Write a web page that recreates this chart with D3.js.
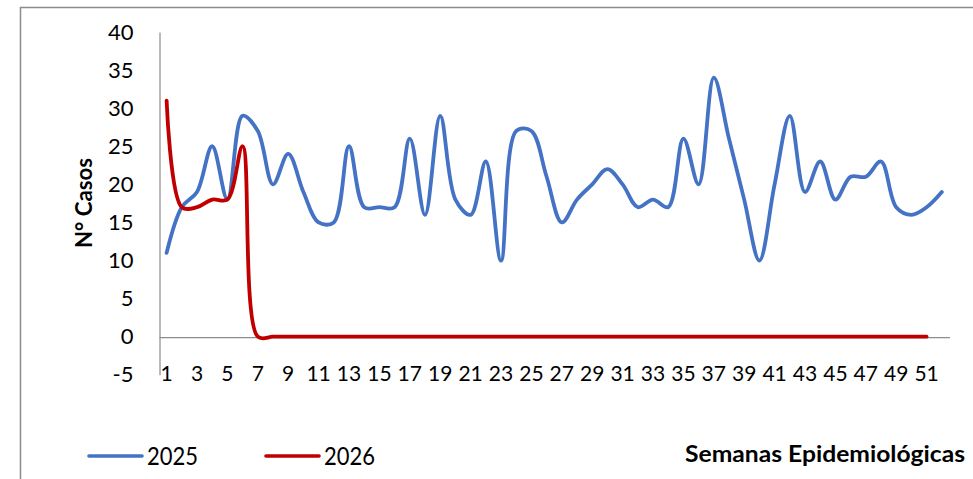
<!DOCTYPE html>
<html>
<head>
<meta charset="utf-8">
<script src="https://cdn.jsdelivr.net/npm/d3@7"></script>
<style>
  body { margin: 0; background: #fff; }
  svg { display: block; font-family: Lato, "Open Sans", sans-serif; }
</style>
</head>
<body>
<div id="chart"></div>
<script>
// datos
var weeks = d3.range(1, 53);
var yTicks = [-5, 0, 5, 10, 15, 20, 25, 30, 35, 40];
var casos2025 = [11, 17, 19, 25, 18, 29, 27, 20, 24, 19,
                 15, 15, 25, 17, 17, 17, 26, 16, 29, 18,
                 16, 23, 10, 27, 27, 21, 15, 18, 20, 22,
                 20, 17, 18, 17, 26, 20, 34, 26, 18, 10,
                 20, 29, 19, 23, 18, 21, 21, 23, 17, 16,
                 17, 19];
var casos2026 = [31, 17, 17, 18, 18, 25, 0, 0, 0, 0,
                 0, 0, 0, 0, 0, 0, 0, 0, 0, 0,
                 0, 0, 0, 0, 0, 0, 0, 0, 0, 0,
                 0, 0, 0, 0, 0, 0, 0, 0, 0, 0,
                 0, 0, 0, 0, 0, 0, 0, 0, 0, 0,
                 0];
var seriesNames = ["2025", "2026"];
var colors = ["#4472C4", "#C00000"];

var width = 973, height = 479;

var svg = d3.select("#chart").append("svg")
    .attr("width", width)
    .attr("height", height);

// marco del gráfico
svg.append("path")
    .attr("d", "M20.5," + height + "V7.5H" + width)
    .attr("fill", "none")
    .attr("stroke", "#8c8c8c")
    .attr("stroke-width", 1.5);

var xScale = d3.scaleBand()
    .domain(weeks)
    .range([159, 949.4]);

var yScale = d3.scaleLinear()
    .domain([-5, 40])
    .range([374.8, 32]);

// eje Y
var yAxis = svg.append("g")
    .attr("transform", "translate(159.5,0)")
    .call(d3.axisLeft(yScale).tickValues(yTicks)
        .tickFormat(function (d) { return String(d); })
        .tickSize(0).tickPadding(26));
yAxis.select(".domain").attr("stroke", "#8c8c8c").attr("stroke-width", 1.2);
yAxis.selectAll("text")
    .attr("font-family", "Lato, sans-serif")
    .attr("font-size", "22px")
    .attr("fill", "#000");

// eje X (linea en 0, etiquetas abajo)
var xAxis = svg.append("g")
    .attr("transform", "translate(0," + (yScale(0) + 0.5) + ")")
    .call(d3.axisBottom(xScale)
        .tickValues(weeks.filter(function (d) { return d % 2 === 1; }))
        .tickSize(0));
xAxis.select(".domain").attr("stroke", "#8c8c8c").attr("stroke-width", 1.2);
xAxis.selectAll("text")
    .attr("y", yScale(-5) - yScale(0) - 2)
    .attr("dy", "0.35em")
    .attr("font-family", "Lato, sans-serif")
    .attr("font-size", "21px")
    .attr("fill", "#000");

// lineas suavizadas
var line = d3.line()
    .x(function (d, i) { return xScale(weeks[i]) + xScale.bandwidth() / 2; })
    .y(function (d) { return yScale(d); })
    .curve(d3.curveCatmullRom.alpha(0.5));

[casos2025, casos2026].forEach(function (s, k) {
    svg.append("path")
        .datum(s)
        .attr("d", line)
        .attr("fill", "none")
        .attr("stroke", colors[k])
        .attr("stroke-width", 3.8)
        .attr("stroke-linecap", "round")
        .attr("stroke-linejoin", "round");
});

// titulo eje Y
svg.append("text")
    .attr("transform", "translate(92,203) rotate(-90)")
    .attr("text-anchor", "middle")
    .attr("font-weight", "bold")
    .attr("font-size", "23px")
    .attr("textLength", 90)
    .attr("lengthAdjust", "spacingAndGlyphs")
    .text("N° Casos");

// leyenda
var legendX = [89, 266];
seriesNames.forEach(function (name, k) {
    svg.append("line")
        .attr("x1", legendX[k]).attr("x2", legendX[k] + 53)
        .attr("y1", 456).attr("y2", 456)
        .attr("stroke", colors[k])
        .attr("stroke-width", 3.6)
        .attr("stroke-linecap", "round");
    svg.append("text")
        .attr("x", legendX[k] + 58)
        .attr("y", 465)
        .attr("font-size", "25px")
        .attr("textLength", 51)
        .attr("lengthAdjust", "spacingAndGlyphs")
        .text(name);
});

// titulo eje X
svg.append("text")
    .attr("x", 685)
    .attr("y", 462)
    .attr("font-weight", "bold")
    .attr("font-size", "23px")
    .attr("textLength", 280)
    .attr("lengthAdjust", "spacingAndGlyphs")
    .text("Semanas Epidemiológicas");
</script>
</body>
</html>
